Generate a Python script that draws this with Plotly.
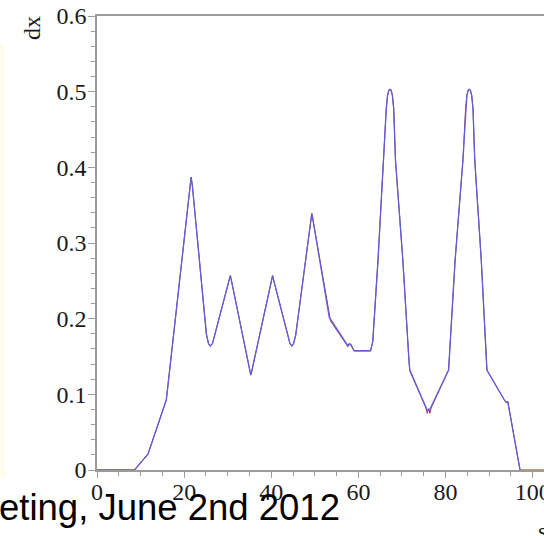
import plotly.graph_objects as go

# ---- data ----
blue_s = [0, 8.6, 11.7, 15.9, 16.6, 21.3, 21.6, 21.9, 25.1, 25.6, 26.0, 26.5, 27.0,
          30.4, 30.6, 30.8, 35.1, 35.3, 35.5, 40.1, 40.3, 40.5, 43.9, 44.3, 44.7, 45.1, 45.6,
          49.1, 49.3, 49.5, 53.3, 57.6, 57.9, 58.3, 59.0, 62.8, 63.3, 64.5, 65.7, 66.4,
          66.7, 67.0, 67.25, 67.5, 67.8, 68.1, 68.5, 70.2, 71.6, 71.8, 75.8, 76.3, 80.7, 82.2, 84.0, 84.6,
          84.9, 85.2, 85.45, 85.7, 86.0, 86.3, 86.7, 88.2, 89.5, 93.5, 93.9, 94.3, 97.1]
blue_dx = [0, 0, 0.021, 0.0925, 0.128, 0.375, 0.387, 0.375, 0.18, 0.167, 0.164, 0.167, 0.178,
           0.252, 0.257, 0.252, 0.13, 0.1255, 0.13, 0.252, 0.257, 0.252, 0.178, 0.167, 0.164, 0.167, 0.178,
           0.333, 0.339, 0.333, 0.202, 0.164, 0.167, 0.166, 0.1577, 0.1577, 0.170, 0.2775, 0.41, 0.478,
           0.495, 0.502, 0.503, 0.502, 0.495, 0.478, 0.41, 0.2775, 0.145, 0.132, 0.079, 0.079, 0.132, 0.2775, 0.41, 0.478,
           0.495, 0.502, 0.503, 0.502, 0.495, 0.478, 0.41, 0.2775, 0.132, 0.0925, 0.0895, 0.090, 0]

red_s = [0, 8.6, 11.7, 15.9, 16.6, 21.3, 21.6, 21.9, 25.1, 25.6, 26.0, 26.5, 27.0,
         30.4, 30.6, 30.8, 35.1, 35.3, 35.5, 40.1, 40.3, 40.5, 43.9, 44.3, 44.7, 45.1, 45.6,
         49.1, 49.3, 49.5, 51.9, 53.6, 57.6, 57.9, 58.3, 59.0, 62.8, 63.3, 64.5, 65.7, 66.4,
         66.7, 67.0, 67.25, 67.5, 67.8, 68.1, 68.5, 70.2, 71.6, 71.8, 75.5, 75.8, 76.1, 76.4, 76.7, 80.7, 82.2, 84.0,
         84.6, 84.9, 85.2, 85.45, 85.7, 86.0, 86.3, 86.7, 88.2, 89.5, 93.5, 93.9, 94.3, 97.1]
red_dx = [0, 0, 0.021, 0.0925, 0.128, 0.375, 0.387, 0.375, 0.18, 0.167, 0.164, 0.167, 0.178,
          0.252, 0.257, 0.252, 0.13, 0.1255, 0.13, 0.252, 0.257, 0.252, 0.178, 0.167, 0.164, 0.167, 0.178,
          0.333, 0.339, 0.333, 0.256, 0.197, 0.163, 0.166, 0.165, 0.1572, 0.1572, 0.170, 0.2775, 0.41, 0.478,
          0.495, 0.502, 0.503, 0.502, 0.495, 0.478, 0.41, 0.2775, 0.145, 0.131, 0.082, 0.075, 0.081, 0.075, 0.082, 0.132, 0.2775,
          0.41, 0.478, 0.495, 0.502, 0.503, 0.502, 0.495, 0.478, 0.41, 0.2775, 0.132, 0.0925, 0.0895, 0.090, 0]

green_s = [97.1, 106]
green_dx = [0, 0]

x_ticks = [0, 20, 40, 60, 80, 100]
y_ticks = [0, 0.1, 0.2, 0.3, 0.4, 0.5, 0.6]

fig = go.Figure()
fig.add_trace(go.Scatter(x=red_s, y=red_dx, mode="lines",
                         line=dict(color="rgb(170,40,100)", width=1.0), showlegend=False))
fig.add_trace(go.Scatter(x=blue_s, y=blue_dx, mode="lines",
                         line=dict(color="rgb(95,95,215)", width=1.3), showlegend=False))
fig.add_trace(go.Scatter(x=green_s, y=green_dx, mode="lines",
                         line=dict(color="rgb(60,170,60)", width=1.5), showlegend=False))

axis_gray = "#9c9c9c"
tick_font = dict(family="Liberation Serif", size=24, color="#1a1a1a")

fig.update_layout(
    width=544, height=536,
    margin=dict(l=97, r=0, t=16, b=66, pad=0, autoexpand=False),
    paper_bgcolor="white", plot_bgcolor="white",
    xaxis=dict(range=[0, 102.6], tickvals=x_ticks, ticks="outside", ticklen=6,
               tickwidth=1.2, tickcolor=axis_gray, showline=True, linecolor=axis_gray,
               linewidth=1.5, mirror=True, showgrid=False, zeroline=False,
               tickfont=tick_font, layer="below traces", ticklabeloverflow="allow",
               ticklabelstandoff=-7, automargin=False,
               minor=dict(dtick=5, tick0=0, ticks="outside", ticklen=4,
                          tickwidth=1.2, tickcolor=axis_gray, showgrid=False)),
    yaxis=dict(range=[0, 0.6], tickvals=y_ticks, ticks="outside", ticklen=7,
               tickwidth=1.2, tickcolor=axis_gray, showline=True, linecolor=axis_gray,
               linewidth=1.5, mirror=False, showgrid=False, zeroline=False,
               tickfont=tick_font, layer="below traces", ticklabeloverflow="allow",
               ticklabelstandoff=-3, automargin=False,
               minor=dict(dtick=0.02, tick0=0, ticks="outside", ticklen=4,
                          tickwidth=1.2, tickcolor=axis_gray, showgrid=False)),
    shapes=[dict(type="rect", xref="paper", yref="paper",
                 x0=(0 - 97) / 447, x1=(5 - 97) / 447,
                 y0=(470 - 478) / 454, y1=(470 - 45) / 454,
                 fillcolor="#fefdec", line=dict(width=0), layer="below")],
    annotations=[
        dict(text="dx", xref="paper", yref="paper", x=(32 - 97) / 447, y=(470 - 28) / 454,
             xanchor="center", yanchor="middle", textangle=-90, showarrow=False,
             font=dict(family="Liberation Serif", size=24, color="#1a1a1a")),
        dict(text="s", xref="paper", yref="paper", x=(542 - 97) / 447, y=(470 - 531) / 454,
             xanchor="center", yanchor="middle", showarrow=False,
             font=dict(family="Liberation Serif", size=24, color="#1a1a1a")),
        dict(text="eting, June 2nd 2012", xref="paper", yref="paper",
             x=(342 - 97) / 447, y=(470 - 507) / 454, xanchor="right", yanchor="middle",
             showarrow=False,
             font=dict(family="Liberation Sans", size=36.5, color="black")),
    ],
)

fig.write_html("out.html")
